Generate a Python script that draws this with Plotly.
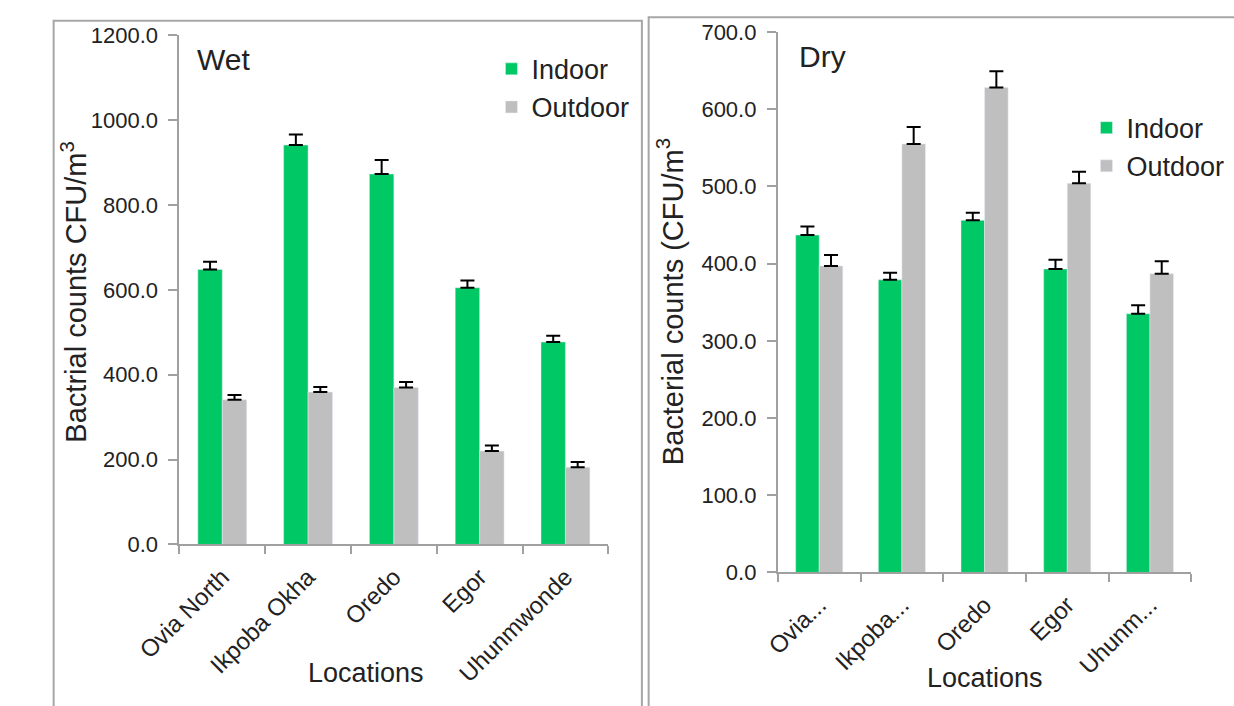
import plotly.graph_objects as go

# Sampling locations
locations = ["Ovia North", "Ikpoba Okha", "Oredo", "Egor", "Uhunmwonde"]
dry_tick_labels = ["Ovia...", "Ikpoba...", "Oredo", "Egor", "Uhunm..."]

# Wet season bacterial counts (CFU/m3) and standard errors
wet_indoor = [648, 941, 873, 605, 477]
wet_indoor_err = [18, 25, 33, 17, 15]
wet_outdoor = [341, 359, 370, 220, 182]
wet_outdoor_err = [11, 12, 13, 13, 12]

# Dry season bacterial counts (CFU/m3) and standard errors
dry_indoor = [437, 379, 456, 393, 335]
dry_indoor_err = [11, 9, 10, 12, 11]
dry_outdoor = [397, 555, 628, 504, 387]
dry_outdoor_err = [14, 22, 21, 15, 16]

GREEN = "#00c864"
GREY = "#bfbfbf"
AXIS = "#a0a0a0"
FONT = "Liberation Sans, Arial, sans-serif"
W, H = 1234, 706


def px(x):
    return x / W


def py(y):
    return 1 - y / H


def err(values):
    return dict(type="data", array=values, arrayminus=[0] * len(values),
                symmetric=False, color="black", thickness=2, width=7)


fig = go.Figure()

fig.add_trace(go.Bar(x=locations, y=wet_indoor, name="Indoor", marker_color=GREEN,
                     error_y=err(wet_indoor_err), xaxis="x", yaxis="y", legend="legend"))
fig.add_trace(go.Bar(x=locations, y=wet_outdoor, name="Outdoor", marker_color=GREY,
                     error_y=err(wet_outdoor_err), xaxis="x", yaxis="y", legend="legend"))
fig.add_trace(go.Bar(x=locations, y=dry_indoor, name="Indoor", marker_color=GREEN,
                     error_y=err(dry_indoor_err), xaxis="x2", yaxis="y2", legend="legend2"))
fig.add_trace(go.Bar(x=locations, y=dry_outdoor, name="Outdoor", marker_color=GREY,
                     error_y=err(dry_outdoor_err), xaxis="x2", yaxis="y2", legend="legend2"))

xaxis_common = dict(showline=True, linecolor=AXIS, linewidth=2, ticks="outside",
                    tickson="boundaries", ticklen=8, tickwidth=2, tickcolor=AXIS,
                    tickangle=-45, ticklabelstandoff=7,
                    tickfont=dict(family=FONT, size=24, color="#222"),
                    showgrid=False, zeroline=False, fixedrange=True)
yaxis_common = dict(showline=True, linecolor=AXIS, linewidth=2, ticks="outside",
                    ticklen=9, tickwidth=2, tickcolor=AXIS, tickformat=".1f",
                    ticklabelstandoff=6,
                    tickfont=dict(family=FONT, size=22, color="#222"),
                    showgrid=False, zeroline=False, fixedrange=True)

legend_font = dict(family=FONT, size=27, color="#222")

fig.update_layout(
    width=W, height=H,
    margin=dict(l=0, r=0, t=0, b=0),
    paper_bgcolor="white", plot_bgcolor="white",
    barmode="group", bargap=0.43, bargroupgap=0,
    font=dict(family=FONT, color="#222"),
    xaxis=dict(domain=[px(140.4), px(585.2)], anchor="y", **xaxis_common),
    yaxis=dict(domain=[py(552), py(24)], range=[0, 1200], dtick=200, anchor="x",
               **yaxis_common),
    xaxis2=dict(domain=[px(761), px(1189.7)], anchor="y2",
                tickmode="array", tickvals=locations, ticktext=dry_tick_labels,
                **xaxis_common),
    yaxis2=dict(domain=[py(581), py(20.7)], range=[0, 700], dtick=100, anchor="x2",
                **yaxis_common),
    legend=dict(x=px(464), y=py(34), xanchor="left", yanchor="top",
                bgcolor="rgba(0,0,0,0)", font=legend_font,
                tracegroupgap=0, itemclick=False, itemdoubleclick=False),
    legend2=dict(x=px(1081), y=py(95), xanchor="left", yanchor="top",
                 bgcolor="rgba(0,0,0,0)", font=legend_font,
                 tracegroupgap=0, itemclick=False, itemdoubleclick=False),
    shapes=[
        dict(type="rect", xref="paper", yref="paper", x0=px(10), x1=px(620),
             y0=-0.05, y1=py(9), line=dict(color="#a6a6a6", width=2), layer="below"),
        dict(type="rect", xref="paper", yref="paper", x0=px(627), x1=1.05,
             y0=-0.05, y1=py(5.5), line=dict(color="#a6a6a6", width=2), layer="below"),
    ],
    annotations=[
        dict(text="Wet", x=px(157), y=py(49), xref="paper", yref="paper",
             xanchor="left", yanchor="middle", showarrow=False,
             font=dict(family=FONT, size=30, color="#222")),
        dict(text="Dry", x=px(781), y=py(46), xref="paper", yref="paper",
             xanchor="left", yanchor="middle", showarrow=False,
             font=dict(family=FONT, size=30, color="#222")),
        dict(text="Bactrial counts CFU/m<sup>3</sup>", x=px(31), y=py(290),
             xref="paper", yref="paper", xanchor="center", yanchor="middle",
             textangle=-90, showarrow=False,
             font=dict(family=FONT, size=29, color="#222")),
        dict(text="Bacterial counts (CFU/m<sup>3</sup>", x=px(650), y=py(300),
             xref="paper", yref="paper", xanchor="center", yanchor="middle",
             textangle=-90, showarrow=False,
             font=dict(family=FONT, size=29, color="#222")),
        dict(text="Locations", x=px(334), y=py(685), xref="paper", yref="paper",
             xanchor="center", yanchor="middle", showarrow=False,
             font=dict(family=FONT, size=27, color="#222")),
        dict(text="Locations", x=px(976), y=py(690), xref="paper", yref="paper",
             xanchor="center", yanchor="middle", showarrow=False,
             font=dict(family=FONT, size=27, color="#222")),
    ],
)

fig.write_html("out.html")
